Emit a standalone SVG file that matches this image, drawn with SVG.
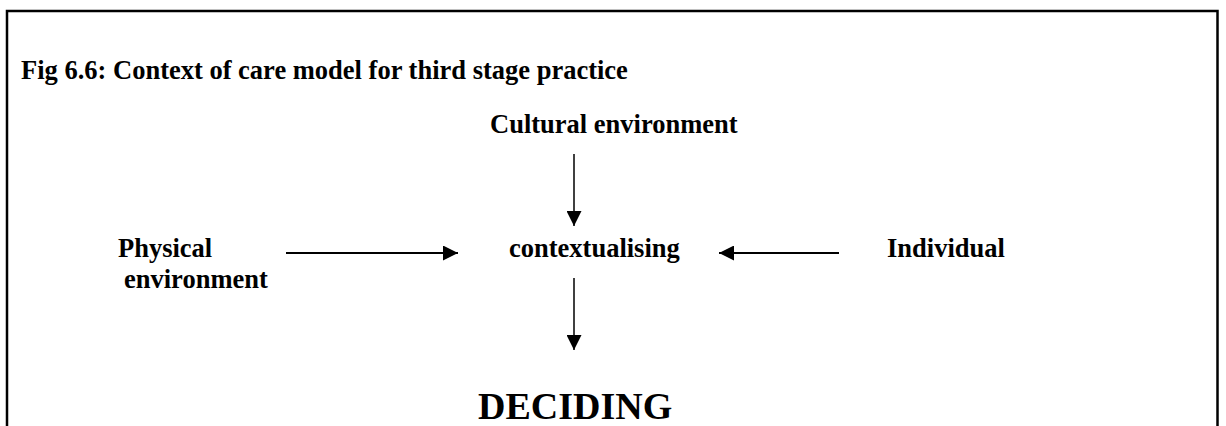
<svg xmlns="http://www.w3.org/2000/svg" width="1226" height="426" viewBox="0 0 1226 426">
  <style>
    .t { font-family: "Liberation Serif", "Times New Roman", serif; font-weight: bold; fill: #000; }
    .lbl { font-size: 26.5px; }
    .big { font-size: 38px; }
    .conn { stroke: #000; fill: none; }
  </style>
  <defs>
    <marker id="ah" markerUnits="userSpaceOnUse" viewBox="0 0 15 15" markerWidth="15" markerHeight="15" refX="15" refY="7.5" orient="auto">
      <path d="M0,0 L15,7.5 L0,15 Z" fill="#000"/>
    </marker>
  </defs>
  <rect width="1226" height="426" fill="#fff"/>
  <path id="frame" d="M7,426 V11 H1217.5 V426" fill="none" stroke="#000" stroke-width="2.5"/>
  <g id="title"><text class="t lbl" x="21" y="79">Fig 6.6: Context of care model for third stage practice</text></g>
  <g id="cultural"><text class="t lbl" x="490" y="133">Cultural environment</text></g>
  <g id="physical"><text class="t lbl" x="118" y="257">Physical</text><text class="t lbl" x="124" y="288">environment</text></g>
  <g id="contextualising"><text class="t lbl" x="509" y="257">contextualising</text></g>
  <g id="individual"><text class="t lbl" x="887" y="257">Individual</text></g>
  <g id="deciding"><text class="t big" x="478" y="419">DECIDING</text></g>
  <g id="connectors" class="conn">
    <line x1="574" y1="154" x2="574" y2="226" stroke-width="1.5" marker-end="url(#ah)"/>
    <line x1="286" y1="253" x2="458" y2="253" stroke-width="2" marker-end="url(#ah)"/>
    <line x1="839" y1="253" x2="719" y2="253" stroke-width="2" marker-end="url(#ah)"/>
    <line x1="574" y1="278" x2="574" y2="350" stroke-width="1.5" marker-end="url(#ah)"/>
  </g>
</svg>
